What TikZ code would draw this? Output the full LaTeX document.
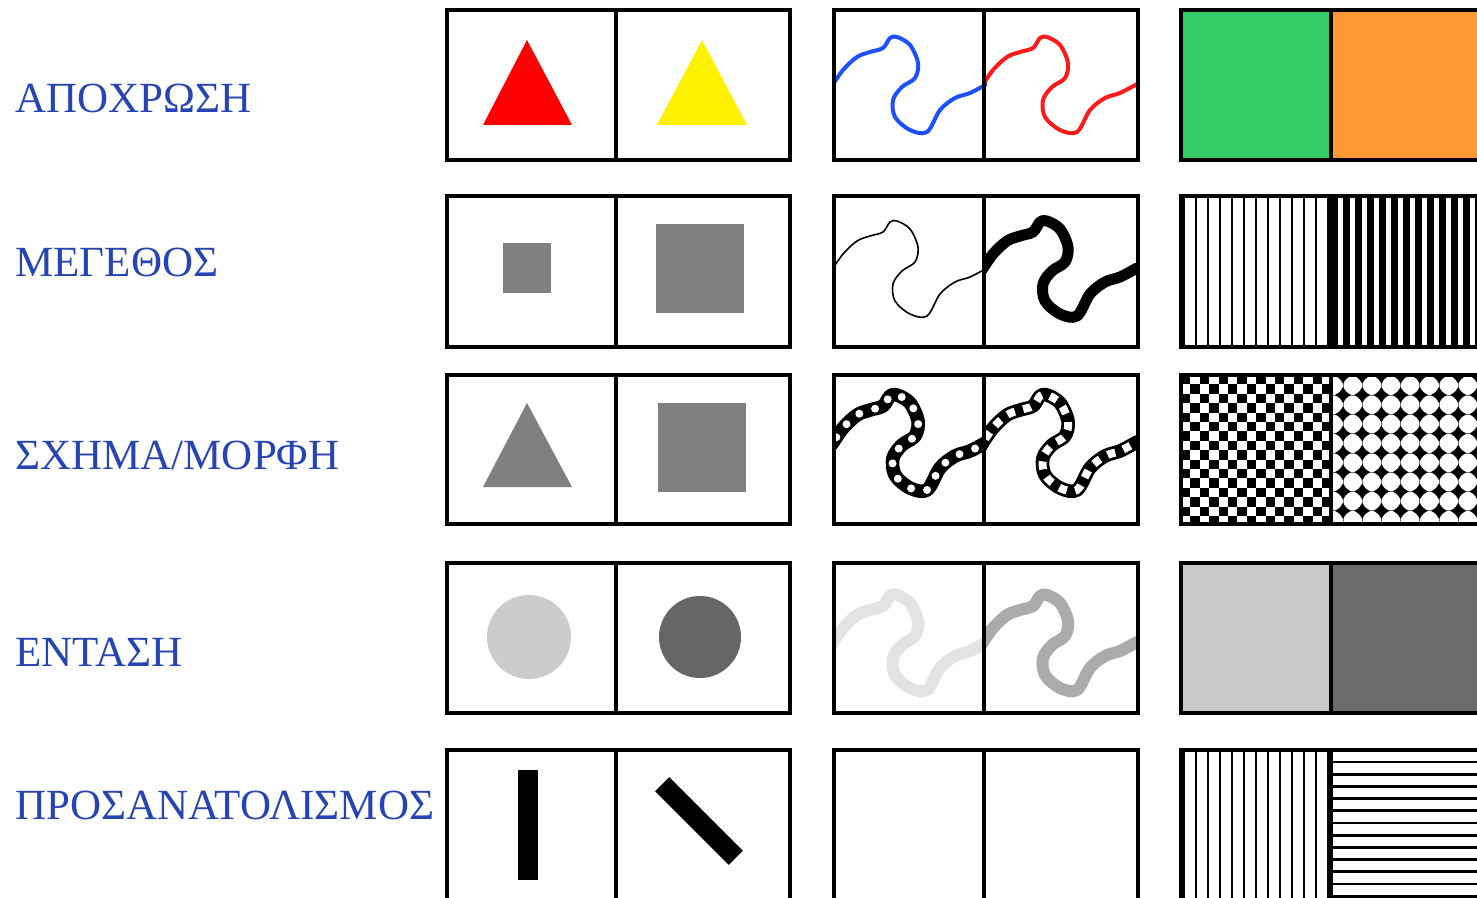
\documentclass[tikz,border=0pt]{standalone}
\usepackage{fontspec}
\setmainfont{Liberation Serif}
\definecolor{lblblue}{RGB}{38,68,178}
\definecolor{wblue}{RGB}{30,80,255}
\definecolor{wred}{RGB}{255,25,25}
\definecolor{cgreen}{RGB}{51,204,102}
\definecolor{corange}{RGB}{255,153,51}
\tikzset{
  lbl/.style={anchor=base west, inner sep=0pt, text=lblblue, font=\fontsize{21.5}{25}\selectfont},
  cellbox/.style={draw=black, line width=1.6pt},
  dotwave/.style={white, line width=4pt, line cap=round, dash pattern=on 0pt off 8.3pt, dash phase=-4pt},
  sqwave/.style={white, line width=4pt, line cap=butt, dash pattern=on 4pt off 4.3pt, dash phase=-3pt}
}
% #1 style, #2 left x, #3 row top, #4 vertical offset of the curve
\newcommand\wave[4]{\begin{scope}
  \clip (#2,#3) rectangle ++(153,150);
  \draw[line cap=round, line join=round, #1, shift={(#2,#3+#4)}]
  plot[smooth, tension=0.55] coordinates {(-2,76) (9,60) (23,47) (36,42) (49,38) (56,28) (63,27) (76,35) (84,53) (81,68) (68,77) (59,90) (61,107) (76,120) (93,122) (106,100) (121,88) (136,83) (153,74)};
  \end{scope}}
\newcommand\pairbox[5]{\draw[cellbox] (#1,#4) rectangle (#3,#5); \draw[cellbox] (#2,#4) -- (#2,#5);}
\begin{document}
\begin{tikzpicture}[x=0.5pt,y=-0.5pt]
\useasboundingbox (0,0) rectangle (1477,898);
\clip (0,0) rectangle (1477,898);
\fill[white] (0,0) rectangle (1477,898);

% labels
\node[lbl] (l1) at (15,113) {ΑΠΟΧΡΩΣΗ};
\node[lbl] (l2) at (15,277) {ΜΕΓΕΘΟΣ};
\node[lbl] (l3) at (15,469) {ΣΧΗΜΑ/ΜΟΡΦΗ};
\node[lbl] (l4) at (15,666) {ΕΝΤΑΣΗ};
\node[lbl] (l5) at (15,819) {ΠΡΟΣΑΝΑΤΟΛΙΣΜΟΣ};

% ---------- column 1 ----------
\fill[red] (527,40) -- (572,125) -- (483,125) -- cycle;
\fill[yellow] (702,40) -- (747,125) -- (657,125) -- cycle;
\fill[black!50] (503,243) rectangle (551,293);
\fill[black!50] (656,224) rectangle (744,313);
\fill[black!50] (527,403) -- (572,487) -- (483,487) -- cycle;
\fill[black!50] (658,403) rectangle (746,492);
\fill[black!20] (529,637) circle (21pt);
\fill[black!60] (700,637) circle (20.5pt);
\fill[black] (518,770) rectangle (538,880);
\fill[black] (655.1,791.3) -- (669.3,777.1) -- (742.9,850.7) -- (728.7,864.9) -- cycle;

\pairbox{447}{616}{790}{10}{160}
\pairbox{447}{616}{790}{196}{347}
\pairbox{447}{616}{790}{375}{524}
\pairbox{447}{616}{790}{563}{713}
\pairbox{447}{616}{790}{750}{903}

% ---------- column 2 ----------
\wave{wblue, line width=2pt}{834}{10}{0}
\wave{wred, line width=2pt}{984}{10}{0}
\wave{black, line width=0.8pt}{834}{196}{-2}
\wave{black, line width=5.5pt}{984}{196}{-2}
\wave{black, line width=6.8pt}{834}{375}{-7}
\wave{dotwave}{834}{375}{-7}
\wave{black, line width=6.8pt}{984}{375}{-7}
\wave{sqwave}{984}{375}{-7}
\wave{black!11, line width=6pt}{834}{563}{5}
\wave{black!33, line width=6pt}{984}{563}{5}

\pairbox{834}{984}{1138}{10}{160}
\pairbox{834}{984}{1138}{196}{347}
\pairbox{834}{984}{1138}{375}{524}
\pairbox{834}{984}{1138}{563}{713}
\pairbox{834}{984}{1138}{750}{903}

% ---------- column 3 ----------
\fill[cgreen] (1181,10) rectangle (1331,160);
\fill[corange] (1331,10) rectangle (1485,160);
% size: stripes
\foreach \i in {0,...,12} \fill[black] (1184+12*\i-1.4,196) rectangle +(2.8,151);
\foreach \i in {0,...,13} \fill[black] (1331+12*\i,196) rectangle +(7,151);
% shape: checker and diamonds
\begin{scope}
  \clip (1181,375) rectangle (1331,524);
  \foreach \i in {0,...,15} \foreach \j in {0,...,8}
    \fill[black] (1181+9.4*\i, {375+9.4*(2*\j+mod(\i,2))}) rectangle +(9.4,9.4);
\end{scope}
\begin{scope}
  \clip (1331,375) rectangle (1485,524);
  \foreach \j in {-1,...,7} \draw[black!55, line width=0.35pt] (1331,395+19.3*\j) -- ++(154,0);
  \foreach \i in {-1,...,8} \draw[black!55, line width=0.35pt] (1343+19.2*\i,375) -- ++(0,150);
  \foreach \i in {-1,...,8} \foreach \j in {-1,...,7}
    \fill[black] (1335+19.2*\i, 395+19.3*\j)
      .. controls (1340+19.2*\i, 392+19.3*\j) .. (1343+19.2*\i, 387+19.3*\j)
      .. controls (1346+19.2*\i, 392+19.3*\j) .. (1351+19.2*\i, 395+19.3*\j)
      .. controls (1346+19.2*\i, 398+19.3*\j) .. (1343+19.2*\i, 403+19.3*\j)
      .. controls (1340+19.2*\i, 398+19.3*\j) .. cycle;
\end{scope}
% intensity
\fill[black!21] (1181,563) rectangle (1331,713);
\fill[black!58] (1331,563) rectangle (1485,713);
% orientation
\foreach \i in {0,...,12} \fill[black] (1184+12*\i-1.4,750) rectangle +(2.8,153);
\foreach \j in {0,...,12} \fill[black] (1331,762+12.2*\j-1.4) rectangle +(154,2.8);

\pairbox{1181}{1331}{1485}{10}{160}
\pairbox{1181}{1331}{1485}{196}{347}
\pairbox{1181}{1331}{1485}{375}{524}
\pairbox{1181}{1331}{1485}{563}{713}
\pairbox{1181}{1331}{1485}{750}{903}
\end{tikzpicture}
\end{document}
